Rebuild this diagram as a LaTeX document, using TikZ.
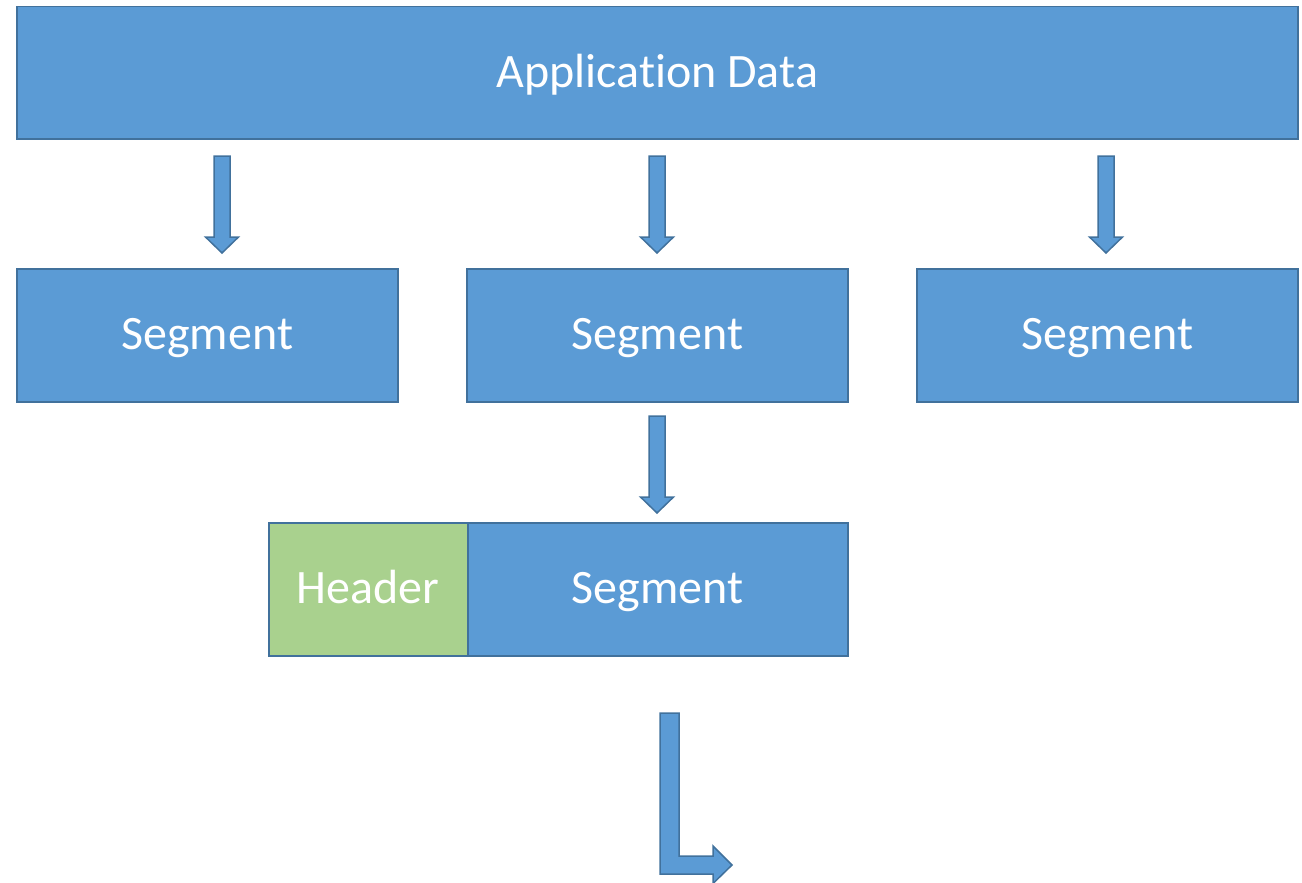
\documentclass[tikz,border=0pt]{standalone}
\usepackage{fontspec}
\setmainfont[Ligatures=NoCommon]{Carlito}
\usetikzlibrary{calc}
\definecolor{boxblue}{HTML}{5B9BD5}
\definecolor{boxline}{HTML}{41719C}
\definecolor{hdrgreen}{HTML}{A9D18E}
\tikzset{
  block/.style={draw=boxline, line width=1.5pt, fill=boxblue, text=white,
    rectangle, inner sep=0pt, anchor=north west,
    text height=40pt, text depth=11pt,
    font=\fontsize{48}{54}\selectfont},
  segbox/.style={block, minimum width=381pt, minimum height=133pt},
  hdrbox/.style={block, fill=hdrgreen, draw=boxline},
  blockarrow/.style={draw=boxline, line width=1.5pt, fill=boxblue, line join=miter},
  pics/downarrow/.style={code={
    \path[blockarrow] (-8,0) -- (8,0) -- (8,81) -- (16.5,81) -- (0,97)
      -- (-16.5,81) -- (-8,81) -- cycle;
  }}
}
\begin{document}
\begin{tikzpicture}[x=1pt, y=-1pt]
  \useasboundingbox (0,0) rectangle (1302,883);

  % top-level data block
  \node[block, minimum width=1281pt, minimum height=132pt] (app) at (16,6) {Application Data};

  % three segments
  \node[segbox] (seg1) at (16,268) {Segment};
  \node[segbox] (seg2) at (466,268) {Segment};
  \node[segbox] (seg3) at (916,268) {Segment};

  % header + segment
  \node[hdrbox, minimum width=199pt, minimum height=133pt] (hdr) at (268,522) {Header};
  \node[segbox, minimum width=380pt] (seg4) at (467,522) {Segment};

  % splitting arrows
  \pic at (222,156) {downarrow};
  \pic at (657,156) {downarrow};
  \pic at (1106,156) {downarrow};
  \pic at (657,416) {downarrow};

  % bent output arrow
  \coordinate (bend) at (660,713);
  \path[blockarrow] (bend) -- ++(19,0) -- ++(0,143) -- ++(34,0) -- ++(0,-10)
    -- ++(19,19) -- ++(-19,18.5) -- ++(0,-9.5) -- ++(-53,0) -- cycle;
\end{tikzpicture}
\end{document}
